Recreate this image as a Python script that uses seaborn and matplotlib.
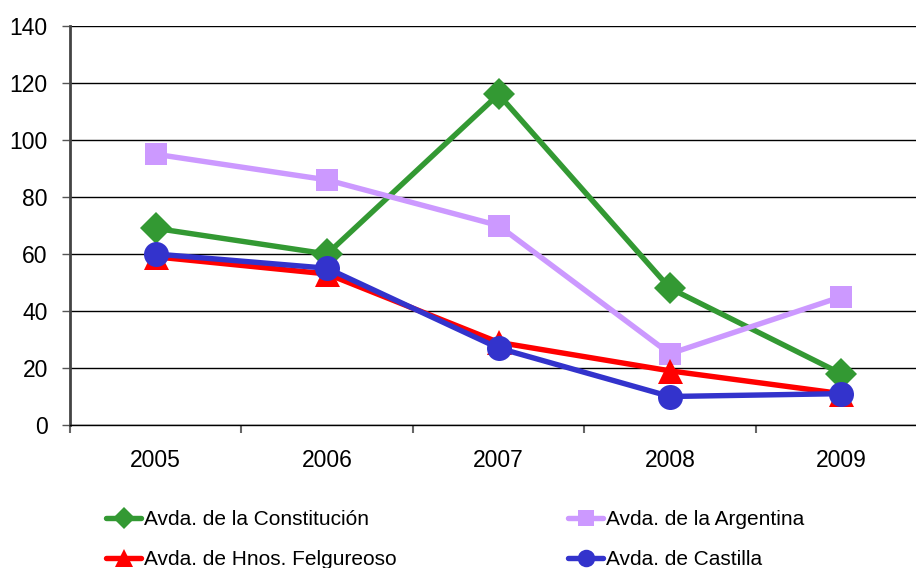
import matplotlib

matplotlib.use("Agg")

import matplotlib.pyplot as plt
import numpy as np
import pandas as pd
import seaborn as sns
from matplotlib.ticker import FixedLocator


years = ["2005", "2006", "2007", "2008", "2009"]
constitucion = [69, 60, 116, 48, 18]
argentina = [95, 86, 70, 25, 45]
felgureoso = [59, 53, 29, 19, 11]
castilla = [60, 55, 27, 10, 11]

series_names = [
    "Avda. de la Constitución",
    "Avda. de la Argentina",
    "Avda. de Hnos. Felgureoso",
    "Avda. de Castilla",
]
series_values = [constitucion, argentina, felgureoso, castilla]
colors = ["#339933", "#CC99FF", "#FF0000", "#3333CC"]
markers = ["D", "s", "^", "o"]
marker_sizes = [16, 16, 18, 18]

sns.set_style("white")
plt.rcParams["font.family"] = ["Liberation Sans", "DejaVu Sans"]
plt.rcParams["text.color"] = "black"
plt.rcParams["xtick.labelcolor"] = "black"
plt.rcParams["ytick.labelcolor"] = "black"

fig = plt.figure(figsize=(9.16, 5.68), dpi=100)
ax = fig.add_axes([70 / 916, 143 / 568, 857 / 916, 399 / 568])

x = np.arange(len(years))
handles = []
for name, vals, col, mk, ms in zip(series_names, series_values, colors, markers, marker_sizes):
    df = pd.DataFrame({"x": x, "y": vals})
    sns.lineplot(data=df, x="x", y="y", ax=ax, color=col, linewidth=3.9,
                 marker=mk, markersize=ms, markeredgewidth=0, label=name, legend=False)
    handles.append(ax.lines[-1])

ax.set_xlim(-0.5, len(years) - 0.5)
ax.set_ylim(0, 140)
ax.set_yticks(range(0, 141, 20))
ax.yaxis.grid(True, color="black", linewidth=1)
ax.set_axisbelow(True)
ax.set_xlabel("")
ax.set_ylabel("")

ax.set_xticks(x)
ax.set_xticklabels(years)
ax.xaxis.set_minor_locator(FixedLocator(np.arange(-0.5, len(years), 1.0)))
ax.tick_params(axis="x", which="major", length=0, pad=17, labelsize=16.5, labelcolor="black")
ax.tick_params(axis="x", which="minor", length=6, width=1.5, color="#666666", direction="out", bottom=True)
ax.tick_params(axis="y", length=6, width=1, color="#555555", direction="out", left=True, pad=10,
               labelsize=16.5, labelcolor="black")

for side in ["top", "right"]:
    ax.spines[side].set_visible(False)
ax.spines["left"].set_color("#444444")
ax.spines["left"].set_linewidth(2)
ax.spines["bottom"].set_color("black")
ax.spines["bottom"].set_linewidth(1)

leg_kw = dict(frameon=False, fontsize=15, handlelength=1.7, handletextpad=0.1,
              markerscale=0.7, labelspacing=1.0, borderaxespad=0, borderpad=0)
fig.legend(handles=[handles[0], handles[2]], labels=[series_names[0], series_names[2]],
           loc="upper left", bbox_to_anchor=(106 / 916, 1 - 510 / 568), **leg_kw)
fig.legend(handles=[handles[1], handles[3]], labels=[series_names[1], series_names[3]],
           loc="upper left", bbox_to_anchor=(568 / 916, 1 - 510 / 568), **leg_kw)

fig.savefig("out.png", dpi=100)
plt.close(fig)
